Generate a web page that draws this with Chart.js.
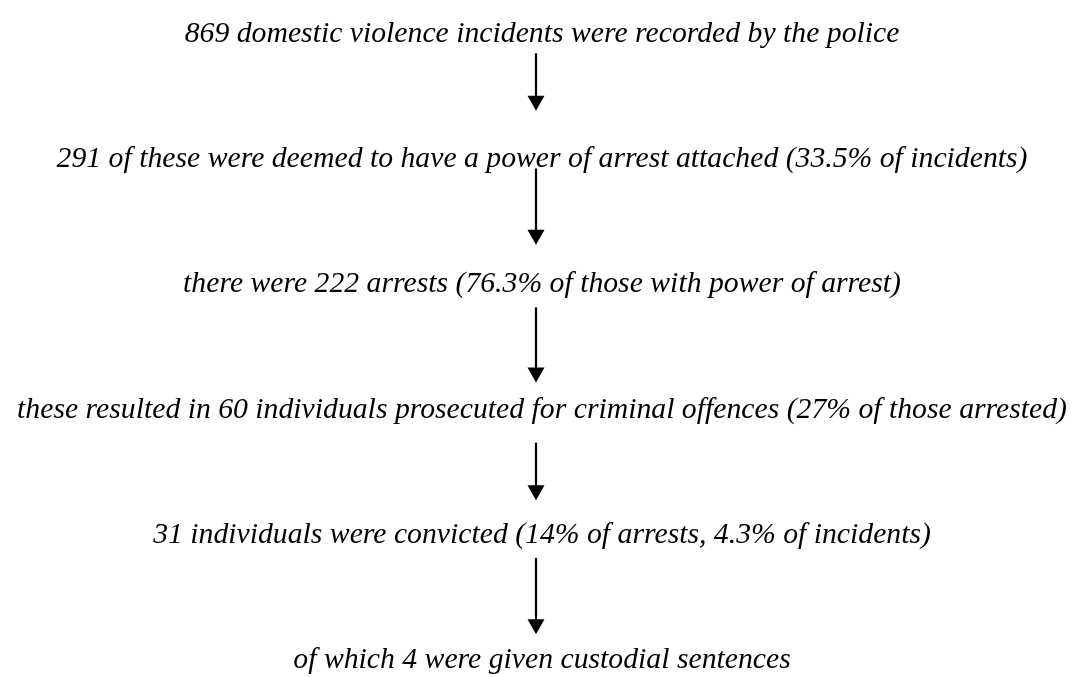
<!DOCTYPE html>
<html>
<head>
<meta charset="utf-8">
<script src="https://cdn.jsdelivr.net/npm/chart.js@4.4.1/dist/chart.umd.min.js"></script>
<style>
  html, body { margin: 0; padding: 0; background: #fff; }
  #wrap { width: 1077px; height: 677px; }
</style>
</head>
<body>
<div id="wrap"><canvas id="flow"></canvas></div>
<script>
// stages of the flow, top to bottom
const etapas = [
  "869 domestic violence incidents were recorded by the police",
  "291 of these were deemed to have a power of arrest attached (33.5% of incidents)",
  "there were 222 arrests (76.3% of those with power of arrest)",
  "these resulted in 60 individuals prosecuted for criminal offences (27% of those arrested)",
  "31 individuals were convicted (14% of arrests, 4.3% of incidents)",
  "of which 4 were given custodial sentences"
];
const posicion = [0, 1, 2, 3, 4, 5];
// arrows between stages, in stage units (where each one starts and ends)
const flechaDesde = [0.09, 1.01, 2.12, 3.20, 4.12];
const flechaHasta = [0.55, 1.62, 2.72, 3.66, 4.73];

const familia = '"Liberation Serif", "Times New Roman", serif';
const anchoMax = 1050;
const centroTexto = 0.5056; // text sits a little right of the arrows
const centroFlecha = 0.5;

// fit font so the longest line is as wide as in the picture
const med = document.createElement("canvas").getContext("2d");
med.font = "italic 100px " + familia;
let masLarga = 0;
etapas.forEach(t => { masLarga = Math.max(masLarga, med.measureText(t).width); });
const tamFuente = 100 * anchoMax / masLarga;

const dibujoFlujo = {
  id: "dibujoFlujo",
  afterDatasetsDraw(chart) {
    const ctx = chart.ctx;
    const sx = chart.scales.x;
    const sy = chart.scales.y;
    const cx = Math.round(sx.getPixelForValue(centroFlecha));

    ctx.save();
    ctx.fillStyle = "#000";
    ctx.strokeStyle = "#000";

    // arrows
    for (let i = 0; i < flechaDesde.length; i++) {
      const y0 = sy.getPixelForValue(flechaDesde[i]);
      const y1 = sy.getPixelForValue(flechaHasta[i]);
      ctx.lineWidth = 2.2;
      ctx.beginPath();
      ctx.moveTo(cx, y0);
      ctx.lineTo(cx, y1 - 12);
      ctx.stroke();
      ctx.beginPath();
      ctx.moveTo(cx - 8.5, y1 - 15);
      ctx.lineTo(cx + 8.5, y1 - 15);
      ctx.lineTo(cx, y1);
      ctx.closePath();
      ctx.fill();
    }

    // stage labels
    const meta = chart.getDatasetMeta(0);
    ctx.font = "italic " + tamFuente.toFixed(2) + "px " + familia;
    ctx.textAlign = "center";
    ctx.textBaseline = "alphabetic";
    meta.data.forEach((p, i) => {
      ctx.fillText(etapas[i], p.x, p.y);
    });
    ctx.restore();
  }
};

new Chart(document.getElementById("flow"), {
  type: "scatter",
  data: {
    datasets: [{
      label: "etapas",
      data: posicion.map(p => ({ x: centroTexto, y: p })),
      pointRadius: 0,
      pointHoverRadius: 0
    }]
  },
  options: {
    responsive: true,
    maintainAspectRatio: false,
    animation: false,
    events: [],
    layout: { padding: 0 },
    plugins: { legend: { display: false }, tooltip: { enabled: false } },
    scales: {
      x: { type: "linear", display: false, min: 0.0023, max: 1.0023 },
      y: { type: "linear", display: false, reverse: true, min: -0.3355, max: 5.072 }
    }
  },
  plugins: [dibujoFlujo]
});
</script>
</body>
</html>
